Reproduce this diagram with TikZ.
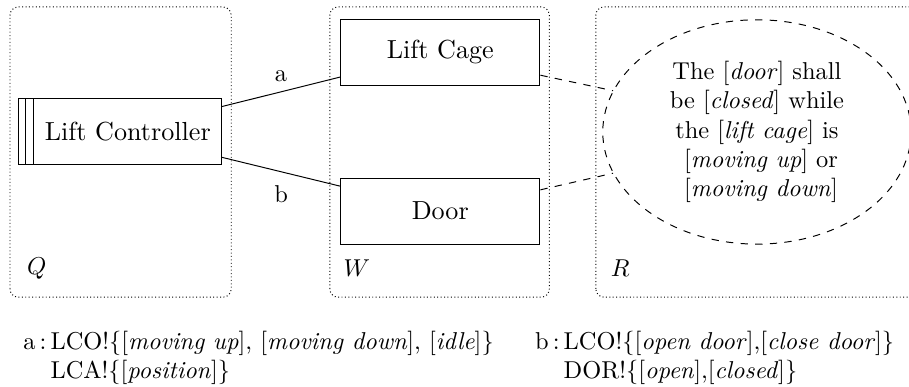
\documentclass[tikz,border=0pt]{standalone}
\usepackage{amsmath}
\usepackage{tikz}
\usetikzlibrary{positioning,shapes}

\tikzset{
  area/.style={draw, densely dotted, rounded corners=0.12cm},
  box/.style={draw, minimum width=2.87cm, minimum height=0.95cm, font=\fontsize{10.7}{13}\selectfont},
  req/.style={draw, dashed, ellipse, inner sep=0pt, minimum width=4.44cm, minimum height=3.23cm, align=center}
}

\begin{document}
\begin{tikzpicture}
\useasboundingbox (0,0) rectangle (13.09,5.56);
% Bereiche
\draw[area] (0.144,1.28) rectangle (3.33,5.46);
\draw[area] (4.75,1.28) rectangle (7.91,5.46);
\draw[area] (8.58,1.28) rectangle (13.5,5.46);
\node (q) at (0.53,1.70) {$Q$};
\node (w) at (5.14,1.70) {$W$};
\node (r) at (8.93,1.70) {$R$};
% Maschine
\node[box, minimum width=2.92cm] (lc) at (1.73,3.66) {\hspace*{0.22cm}Lift Controller};
\draw ([xshift=0.107cm]lc.north west) -- ([xshift=0.107cm]lc.south west);
\draw ([xshift=0.226cm]lc.north west) -- ([xshift=0.226cm]lc.south west);
% Domaenen
\node[box] (cage) at (6.34,4.81) {Lift Cage};
\node[box] (door) at (6.34,2.52) {Door};
% Anforderung
\node[req] (rq) at (10.9,3.66) {The [\textit{door}] shall\\ be [\textit{closed}] while\\ the [\textit{lift cage}] is\\{} [\textit{moving up}] or\\{} [\textit{moving down}]};
% Verbindungen
\draw (lc.14) -- node[above=0.02cm] {a} (cage.194);
\draw (lc.346) -- node[below=0.07cm] {b} (door.166);
\draw[dashed] (cage.347) -- (rq.164);
\draw[dashed] (door.12) -- (rq.196);
% Phaenomene
\node[anchor=base west, inner sep=0pt] (pa) at (0.33,0.53) {\begin{tabular}[t]{@{}l@{}l@{}}
a\,:\,& LCO!\{[\textit{moving up}], [\textit{moving down}], [\textit{idle}]\}\\
 & LCA!\{[\textit{position}]\}
\end{tabular}};
\node[anchor=base west, inner sep=0pt] (pb) at (7.70,0.53) {\begin{tabular}[t]{@{}l@{}l@{}}
b\,:\,& LCO!\{[\textit{open door}],[\textit{close door}]\}\\
 & DOR!\{[\textit{open}],[\textit{closed}]\}
\end{tabular}};
\end{tikzpicture}
\end{document}
